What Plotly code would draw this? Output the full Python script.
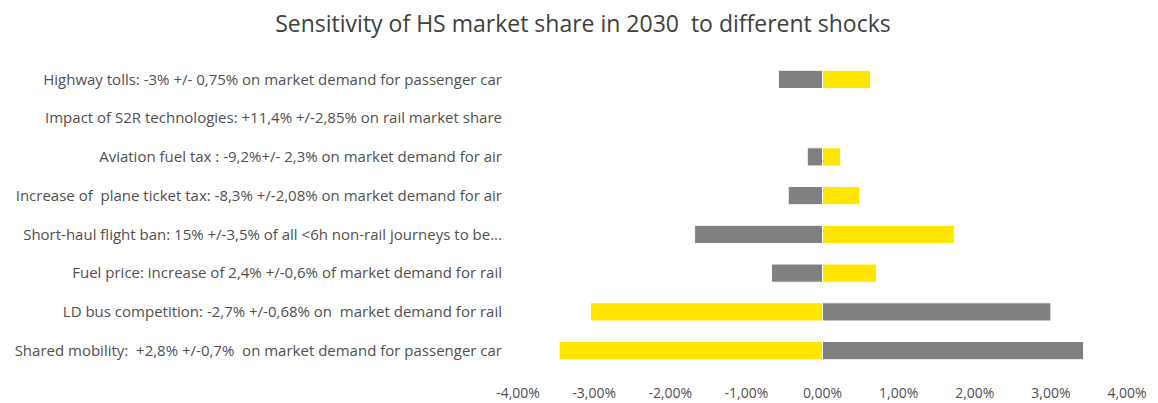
import plotly.graph_objects as go

categories = [
    "Highway tolls: -3% +/- 0,75% on market demand for passenger car",
    "Impact of S2R technologies: +11,4% +/-2,85% on rail market share",
    "Aviation fuel tax : -9,2%+/- 2,3% on market demand for air",
    "Increase of  plane ticket tax: -8,3% +/-2,08% on market demand for air",
    "Short-haul flight ban: 15% +/-3,5% of all <6h non-rail journeys to be...",
    "Fuel price: increase of 2,4% +/-0,6% of market demand for rail",
    "LD bus competition: -2,7% +/-0,68% on  market demand for rail",
    "Shared mobility:  +2,8% +/-0,7%  on market demand for passenger car",
]
grey_values = [-0.0058, 0.0, -0.0020, -0.0045, -0.0168, -0.0067, 0.0300, 0.0343]
yellow_values = [0.0063, 0.0, 0.0024, 0.0049, 0.0173, 0.0071, -0.0305, -0.0346]
tick_vals = [-0.04, -0.03, -0.02, -0.01, 0.0, 0.01, 0.02, 0.03, 0.04]
tick_text = ["-4,00%", "-3,00%", "-2,00%", "-1,00%", "0,00%", "1,00%", "2,00%", "3,00%", "4,00%"]

labels = [c.replace("<", "&lt;") for c in categories]

fig = go.Figure()
fig.add_trace(go.Bar(
    y=labels, x=grey_values, orientation="h", name="Low",
    marker=dict(color="#808080", line=dict(color="#FFFFFF", width=1)),
))
fig.add_trace(go.Bar(
    y=labels, x=yellow_values, orientation="h", name="High",
    marker=dict(color="#FFE600", line=dict(color="#FFFFFF", width=1)),
))

fig.update_layout(
    width=1150, height=395,
    barmode="relative", bargap=0.53,
    plot_bgcolor="white", paper_bgcolor="white",
    showlegend=False,
    margin=dict(l=510, r=31, t=52, b=33, autoexpand=False),
    font=dict(family="Open Sans, sans-serif", size=15, color="#505050"),
    title=dict(
        text="Sensitivity of HS market share in 2030  to different shocks",
        x=0.5, xanchor="center", y=0.96, yanchor="middle",
        font=dict(size=23, color="#404040"),
    ),
)
fig.update_xaxes(
    range=[-0.04, 0.04], tickvals=tick_vals, ticktext=tick_text,
    showgrid=False, zeroline=False, showline=False, automargin=False,
    ticks="outside", ticklen=10, tickcolor="white",
    tickfont=dict(size=14, color="#505050"),
)
fig.update_yaxes(
    categoryorder="array", categoryarray=labels[::-1],
    showgrid=False, zeroline=False, showline=False, automargin=False,
    ticks="outside", ticklen=12, tickcolor="white",
    tickfont=dict(size=15, color="#505050"),
)

fig.write_html("out.html")
